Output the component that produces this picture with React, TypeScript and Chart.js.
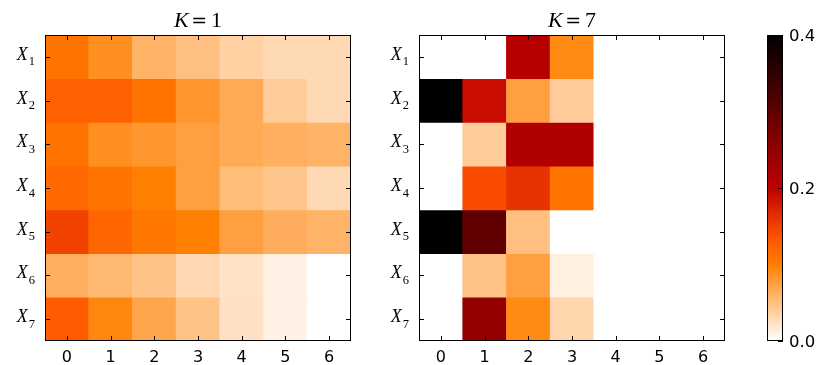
import React, { useEffect, useRef } from "react";
import { Chart, registerables } from "chart.js";

Chart.register(...registerables);

// ---------- data ----------
const columns = ["0", "1", "2", "3", "4", "5", "6"];
const rowSubscripts = ["1", "2", "3", "4", "5", "6", "7"];
const leftTitleK = "1";
const rightTitleK = "7";

const k1Values: number[][] = [
  [0.11, 0.088, 0.06, 0.05, 0.036, 0.03, 0.03],
  [0.125, 0.125, 0.11, 0.082, 0.067, 0.04, 0.03],
  [0.11, 0.088, 0.082, 0.075, 0.067, 0.063, 0.06],
  [0.118, 0.11, 0.1, 0.075, 0.052, 0.045, 0.03],
  [0.148, 0.12, 0.107, 0.1, 0.075, 0.064, 0.06],
  [0.063, 0.055, 0.047, 0.031, 0.022, 0.01, 0.0],
  [0.129, 0.094, 0.07, 0.047, 0.024, 0.01, 0.0],
];

const k7Values: number[][] = [
  [0.0, 0.0, 0.21, 0.092, 0.0, 0.0, 0.0],
  [0.4, 0.19, 0.075, 0.04, 0.0, 0.0, 0.0],
  [0.0, 0.04, 0.215, 0.215, 0.0, 0.0, 0.0],
  [0.0, 0.14, 0.16, 0.11, 0.0, 0.0, 0.0],
  [0.4, 0.3, 0.05, 0.0, 0.0, 0.0, 0.0],
  [0.0, 0.048, 0.075, 0.012, 0.0, 0.0, 0.0],
  [0.0, 0.245, 0.092, 0.032, 0.0, 0.0, 0.0],
];

const vMin = 0;
const vMax = 0.4;
const colorbarTicks = [0.0, 0.2, 0.4];

// ---------- colormap (gist_heat reversed) ----------
function gistHeatR(v: number): string {
  const t = Math.max(0, Math.min(1, (v - vMin) / (vMax - vMin)));
  const x = 1 - t;
  const r = Math.min(1, 1.5 * x);
  const g = Math.max(0, Math.min(1, 2 * x - 1));
  const b = Math.max(0, Math.min(1, 4 * x - 3));
  return `rgb(${Math.round(r * 255)},${Math.round(g * 255)},${Math.round(b * 255)})`;
}

const SERIF = '"Liberation Serif", "DejaVu Serif", serif';
const SANS = '"DejaVu Sans", sans-serif';
const TICK = 5;

function heatAxesPlugin(kLabel: string) {
  return {
    id: "heatAxes",
    afterDraw(chart: any) {
      const { ctx, chartArea: a, scales } = chart;
      const xs = scales.x;
      const ys = scales.y;
      const nRows = rowSubscripts.length;
      ctx.save();
      ctx.strokeStyle = "#000";
      ctx.lineWidth = 1;
      ctx.strokeRect(a.left + 0.5, a.top + 0.5, a.right - a.left - 1, a.bottom - a.top - 1);
      ctx.beginPath();
      columns.forEach((_, i) => {
        const x = Math.round(xs.getPixelForValue(i)) + 0.5;
        ctx.moveTo(x, a.bottom);
        ctx.lineTo(x, a.bottom - TICK);
        ctx.moveTo(x, a.top);
        ctx.lineTo(x, a.top + TICK);
      });
      rowSubscripts.forEach((_, r) => {
        const y = Math.round(ys.getPixelForValue(nRows - 0.5 - r)) + 0.5;
        ctx.moveTo(a.left, y);
        ctx.lineTo(a.left + TICK, y);
        ctx.moveTo(a.right, y);
        ctx.lineTo(a.right - TICK, y);
      });
      ctx.stroke();

      // x tick labels
      ctx.fillStyle = "#000";
      ctx.font = `16px ${SANS}`;
      ctx.textAlign = "center";
      ctx.textBaseline = "alphabetic";
      columns.forEach((lab, i) => {
        ctx.fillText(lab, xs.getPixelForValue(i), a.bottom + 21);
      });

      // y tick labels X_n
      ctx.textAlign = "left";
      rowSubscripts.forEach((sub, r) => {
        const y = ys.getPixelForValue(nRows - 0.5 - r);
        ctx.font = `italic 18px ${SERIF}`;
        const wX = ctx.measureText("X").width;
        ctx.font = `12.5px ${SERIF}`;
        const wS = ctx.measureText(sub).width;
        const right = a.left - 10;
        const xStart = right - wS - 1 - wX;
        ctx.font = `italic 18px ${SERIF}`;
        ctx.fillText("X", xStart, y + 3);
        ctx.font = `12.5px ${SERIF}`;
        ctx.fillText(sub, xStart + wX + 1, y + 8.5);
      });

      // title  K = n
      ctx.font = `italic 22px ${SERIF}`;
      const wK = ctx.measureText("K").width;
      ctx.font = `19px "DejaVu Serif", serif`;
      const wEq = ctx.measureText("=").width;
      ctx.font = `22px ${SERIF}`;
      const wN = ctx.measureText(kLabel).width;
      const g1 = 2.5;
      const g2 = 4;
      const total = wK + g1 + wEq + g2 + wN;
      let tx = (a.left + a.right) / 2 - total / 2;
      const ty = a.top - 8;
      ctx.font = `italic 22px ${SERIF}`;
      ctx.fillText("K", tx, ty);
      tx += wK + g1;
      ctx.font = `19px "DejaVu Serif", serif`;
      ctx.fillText("=", tx, ty);
      tx += wEq + g2;
      ctx.font = `22px ${SERIF}`;
      ctx.fillText(kLabel, tx, ty);
      ctx.restore();
    },
  };
}

function Heatmap(props: {
  values: number[][];
  kLabel: string;
  left: number;
  width: number;
  padding: { left: number; right: number; top: number; bottom: number };
}) {
  const ref = useRef<HTMLCanvasElement | null>(null);
  useEffect(() => {
    if (!ref.current) return;
    const nRows = rowSubscripts.length;
    const datasets = rowSubscripts.map((sub, r) => ({
      label: "X" + sub,
      data: columns.map(() => [nRows - 1 - r, nRows - r]),
      backgroundColor: props.values[r].map(gistHeatR),
      borderWidth: 0,
      barPercentage: 1,
      categoryPercentage: 1,
      grouped: false,
    }));
    const chart = new Chart(ref.current, {
      type: "bar",
      data: { labels: columns, datasets: datasets as any },
      options: {
        animation: false,
        responsive: false,
        layout: { padding: props.padding },
        plugins: { legend: { display: false }, tooltip: { enabled: false } },
        scales: {
          x: { type: "category", display: false, offset: true },
          y: { type: "linear", display: false, min: 0, max: nRows },
        },
      },
      plugins: [heatAxesPlugin(props.kLabel)],
    });
    return () => chart.destroy();
  }, []);
  return (
    <canvas
      ref={ref}
      width={props.width}
      height={365}
      style={{ position: "absolute", left: props.left, top: 0, width: props.width, height: 365 }}
    />
  );
}

const colorbarPlugin = {
  id: "cbAxes",
  afterDraw(chart: any) {
    const { ctx, chartArea: a, scales } = chart;
    const ys = scales.y;
    ctx.save();
    ctx.strokeStyle = "#000";
    ctx.lineWidth = 1;
    ctx.strokeRect(a.left + 0.5, a.top + 0.5, a.right - a.left - 1, a.bottom - a.top - 1);
    ctx.beginPath();
    colorbarTicks.forEach((v) => {
      const y = Math.round(ys.getPixelForValue(v)) + 0.5;
      ctx.moveTo(a.right, y);
      ctx.lineTo(a.right - TICK, y);
    });
    ctx.stroke();
    ctx.fillStyle = "#000";
    ctx.font = `16.5px ${SANS}`;
    ctx.textAlign = "left";
    ctx.textBaseline = "alphabetic";
    colorbarTicks.forEach((v) => {
      ctx.fillText(v.toFixed(1), a.right + 6, ys.getPixelForValue(v) + 6);
    });
    ctx.restore();
  },
};

function Colorbar() {
  const ref = useRef<HTMLCanvasElement | null>(null);
  useEffect(() => {
    if (!ref.current) return;
    const chart = new Chart(ref.current, {
      type: "bar",
      data: {
        labels: ["cb"],
        datasets: [
          {
            data: [[vMin, vMax]] as any,
            borderWidth: 0,
            barPercentage: 1,
            categoryPercentage: 1,
            backgroundColor: (c: any) => {
              const ch = c.chart;
              const ys = ch.scales.y;
              if (!ch.chartArea || !ys) return "#fff";
              const g = ch.ctx.createLinearGradient(0, ys.getPixelForValue(vMin), 0, ys.getPixelForValue(vMax));
              [0, 0.25, 1 / 3, 0.5, 1].forEach((f) => g.addColorStop(f, gistHeatR(vMin + f * (vMax - vMin))));
              return g;
            },
          },
        ],
      },
      options: {
        animation: false,
        responsive: false,
        layout: { padding: { left: 27, right: 39, top: 35, bottom: 24 } },
        plugins: { legend: { display: false }, tooltip: { enabled: false } },
        scales: {
          x: { type: "category", display: false, offset: true },
          y: { type: "linear", display: false, min: vMin, max: vMax },
        },
      },
      plugins: [colorbarPlugin],
    });
    return () => chart.destroy();
  }, []);
  return (
    <canvas
      ref={ref}
      width={82}
      height={365}
      style={{ position: "absolute", left: 740, top: 0, width: 82, height: 365 }}
    />
  );
}

export default function App() {
  return (
    <div style={{ position: "fixed", left: 0, top: 0, width: 822, height: 365, background: "#fff" }}>
      <Heatmap values={k1Values} kLabel={leftTitleK} left={0} width={372} padding={{ left: 45, right: 21, top: 35, bottom: 24 }} />
      <Heatmap values={k7Values} kLabel={rightTitleK} left={372} width={368} padding={{ left: 47, right: 15, top: 35, bottom: 24 }} />
      <Colorbar />
    </div>
  );
}
